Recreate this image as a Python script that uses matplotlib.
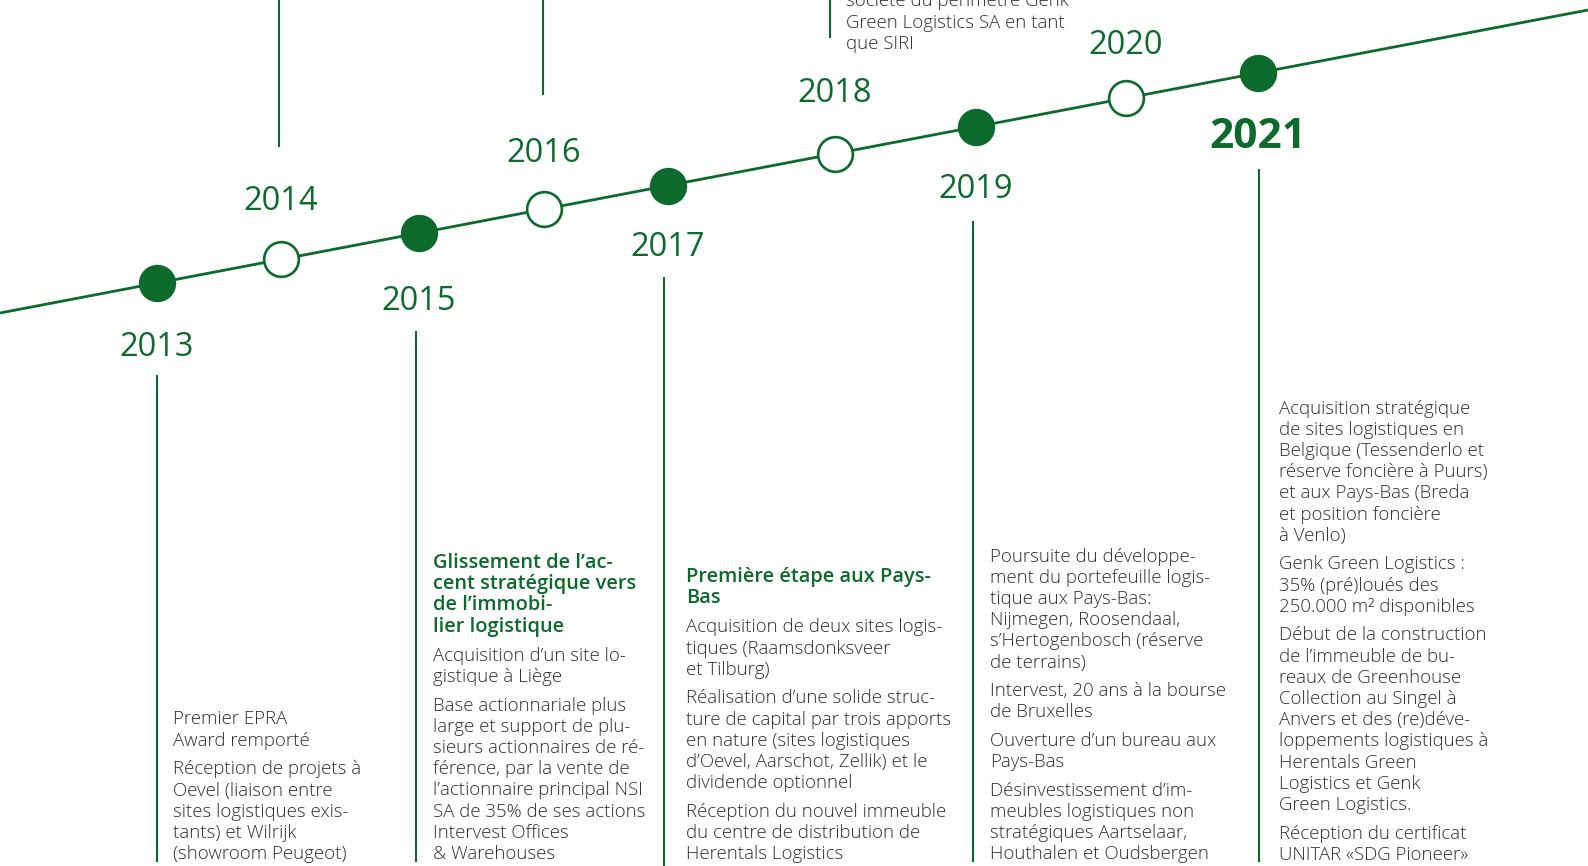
import matplotlib
matplotlib.use("Agg")
import matplotlib.pyplot as plt

# ---------------- data ----------------
years = [2013, 2014, 2015, 2016, 2017, 2018, 2019, 2020, 2021]
filled = [True, False, True, False, True, False, True, False, True]
year_x = [157, 281, 419, 544, 668, 835, 976, 1126, 1258]

timeline_start = (0, 313)
timeline_end = (1588, 10)

headings = {
    2015: ["Glissement de l\u2019ac-", "cent strat\u00e9gique vers", "de l\u2019immobi-", "lier logistique"],
    2017: ["Premi\u00e8re \u00e9tape aux Pays-", "Bas"],
}

texts = {
    2013: [["Premier EPRA", "Award remport\u00e9"],
           ["R\u00e9ception de projets \u00e0", "Oevel (liaison entre", "sites logistiques exis-",
            "tants) et Wilrijk", "(showroom Peugeot)"]],
    2015: [["Acquisition d\u2019un site lo-", "gistique \u00e0 Li\u00e8ge"],
           ["Base actionnariale plus", "large et support de plu-", "sieurs actionnaires de r\u00e9-",
            "f\u00e9rence, par la vente de", "l\u2019actionnaire principal NSI", "SA de 35% de ses actions",
            "Intervest Offices", "& Warehouses"]],
    2017: [["Acquisition de deux sites logis-", "tiques (Raamsdonksveer", "et Tilburg)"],
           ["R\u00e9alisation d\u2019une solide struc-", "ture de capital par trois apports",
            "en nature (sites logistiques", "d\u2019Oevel, Aarschot, Zellik) et le", "dividende optionnel"],
           ["R\u00e9ception du nouvel immeuble", "du centre de distribution de", "Herentals Logistics"]],
    2018: [["soci\u00e9t\u00e9 du p\u00e9rim\u00e8tre Genk", "Green Logistics SA en tant", "que SIRI"]],
    2019: [["Poursuite du d\u00e9veloppe-", "ment du portefeuille logis-", "tique aux Pays-Bas:",
            "Nijmegen, Roosendaal,", "s\u2019Hertogenbosch (r\u00e9serve", "de terrains)"],
           ["Intervest, 20 ans \u00e0 la bourse", "de Bruxelles"],
           ["Ouverture d\u2019un bureau aux", "Pays-Bas"],
           ["D\u00e9sinvestissement d\u2019im-", "meubles logistiques non", "strat\u00e9giques Aartselaar,",
            "Houthalen et Oudsbergen"]],
    2021: [["Acquisition strat\u00e9gique", "de sites logistiques en", "Belgique (Tessenderlo et",
            "r\u00e9serve fonci\u00e8re \u00e0 Puurs)", "et aux Pays-Bas (Breda", "et position fonci\u00e8re",
            "\u00e0 Venlo)"],
           ["Genk Green Logistics :", "35% (pr\u00e9)lou\u00e9s des", "250.000 m\u00b2 disponibles"],
           ["D\u00e9but de la construction", "de l\u2019immeuble de bu-", "reaux de Greenhouse",
            "Collection au Singel \u00e0", "Anvers et des (re)d\u00e9ve-", "loppements logistiques \u00e0",
            "Herentals Green", "Logistics et Genk", "Green Logistics."],
           ["R\u00e9ception du certificat", "UNITAR \u00abSDG Pioneer\u00bb"]],
}

# layout (pixel space)
block_pos = {2013: (173, 718), 2015: (433, 561), 2017: (686, 575),
             2018: (846, 0), 2019: (990, 555), 2021: (1279, 407)}
year_label_y = {2013: 343, 2014: 197, 2015: 298, 2016: 150, 2017: 243,
                2018: 90, 2019: 185, 2020: 41, 2021: 132}
connectors = {2013: (157, 375, 862), 2014: (279, 0, 147), 2015: (416, 331, 862),
              2016: (543, 0, 95), 2017: (664, 277, 866), 2018: (830, 0, 38),
              2019: (973, 221, 862), 2021: (1259, 169, 862)}

GREEN = "#0b6a2c"
GREY = "#2e2e2e"
FONT = "Open Sans"
LINE = 21.2
PARA = 7.4
BODY_PT = 13.4
HEAD_PT = 14.4

W, H = 1588, 866
fig = plt.figure(figsize=(W / 100, H / 100), dpi=100)
ax = fig.add_axes([0, 0, 1, 1])
ax.set_xlim(0, W)
ax.set_ylim(H, 0)
ax.axis("off")

# timeline
ax.plot([timeline_start[0], timeline_end[0]], [timeline_start[1], timeline_end[1]],
        color=GREEN, lw=2.0, solid_capstyle="butt", zorder=2)

def line_y(x):
    (x0, y0), (x1, y1) = timeline_start, timeline_end
    return y0 + (y1 - y0) * (x - x0) / (x1 - x0)

# connectors
for yr, (cx, ya, yb) in connectors.items():
    ax.plot([cx, cx], [ya, yb], color=GREEN, lw=1.5, solid_capstyle="butt", zorder=1)

# markers
for yr, x, f in zip(years, year_x, filled):
    ax.plot([x], [line_y(x)], marker="o", markersize=25,
            markerfacecolor=GREEN if f else "white", markeredgecolor=GREEN,
            markeredgewidth=1.9, zorder=3)

# year labels
for yr, x in zip(years, year_x):
    big = yr == 2021
    ax.text(x, year_label_y[yr] + (16.5 if big else 12.5), str(yr),
            ha="center", va="baseline", color=GREEN, family=FONT,
            fontsize=30.5 if big else 23.5, fontweight="bold" if big else "normal")

# text blocks
for yr, (bx, by) in block_pos.items():
    y = by
    if yr in headings:
        for ln in headings[yr]:
            ax.text(bx, y + 7, ln, ha="left", va="baseline", color=GREEN,
                    family=FONT, fontsize=HEAD_PT, fontweight="semibold")
            y += LINE
        y += PARA + 1
    for p in texts[yr]:
        for ln in p:
            ax.text(bx, y + 6.5, ln, ha="left", va="baseline", color=GREY,
                    family=FONT, fontsize=BODY_PT, fontweight="light")
            y += LINE
        y += PARA

fig.savefig("out.png", dpi=100, facecolor="white")
